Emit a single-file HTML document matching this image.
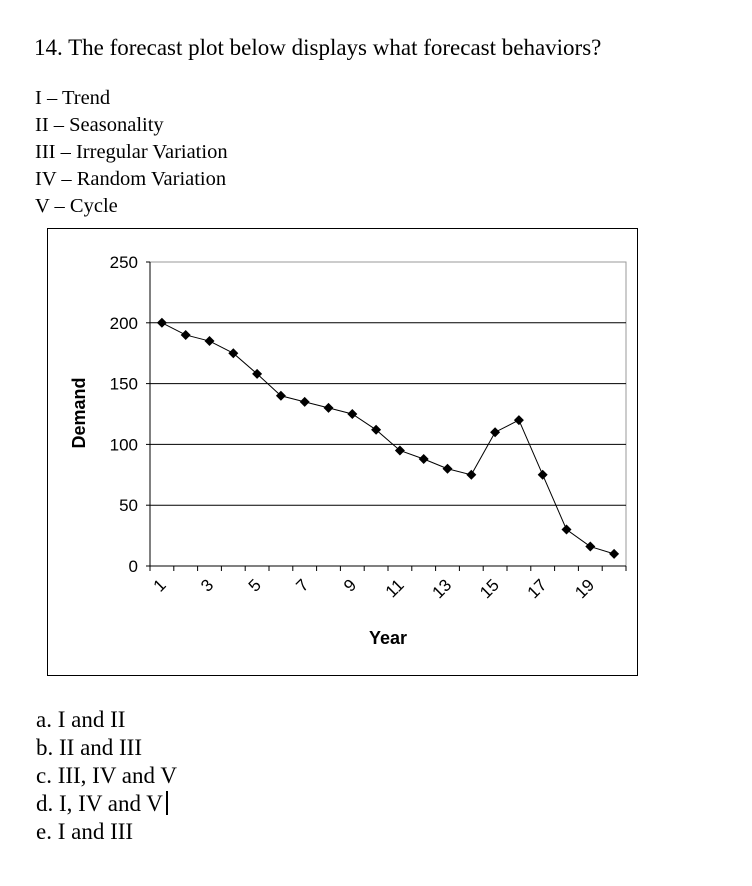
<!DOCTYPE html>
<html><head><meta charset="utf-8"><style>
body{margin:0;width:752px;height:886px;background:#fff;font-family:"Liberation Serif",serif;color:#000;position:relative;overflow:hidden}
.t{position:absolute;white-space:nowrap}
</style></head><body>
<div class="t" style="left:34px;top:35px;font-size:23px">14. The forecast plot below displays what forecast behaviors?</div>
<div class="t" style="left:35px;top:87px;font-size:20.5px">I – Trend</div>
<div class="t" style="left:35px;top:114px;font-size:20.5px">II – Seasonality</div>
<div class="t" style="left:35px;top:141px;font-size:20.5px">III – Irregular Variation</div>
<div class="t" style="left:35px;top:168px;font-size:20.5px">IV – Random Variation</div>
<div class="t" style="left:35px;top:195px;font-size:20.5px">V – Cycle</div>
<svg id="chart" style="position:absolute;left:0;top:0" width="752" height="886" font-family="Liberation Sans, sans-serif"></svg>
<div class="t" style="left:36px;top:707px;font-size:23px">a. I and II</div>
<div class="t" style="left:36px;top:735px;font-size:23px">b. II and III</div>
<div class="t" style="left:36px;top:763px;font-size:23px">c. III, IV and V</div>
<div class="t" style="left:36px;top:791px;font-size:23px">d. I, IV and V<span style="display:inline-block;width:2px;height:24px;background:#000;vertical-align:-4px;margin-left:3px"></span></div>
<div class="t" style="left:36px;top:819px;font-size:23px">e. I and III</div>
<script>
const years=[1,2,3,4,5,6,7,8,9,10,11,12,13,14,15,16,17,18,19,20];
const demand=[200,190,185,175,158,140,135,130,125,112,95,88,80,75,110,120,75,30,16,10];
const yTicks=[0,50,100,150,200,250];
const xLabels=[1,3,5,7,9,11,13,15,17,19];
const svg=document.getElementById('chart');
const NS='http://www.w3.org/2000/svg';
const L=150,R=626,T=262,B=566;
const xs=i=>L+(i-0.5)*(R-L)/years.length;
const ys=v=>B-v/250*(B-T);
function mk(tag,a){const e=document.createElementNS(NS,tag);for(const k in a)e.setAttribute(k,a[k]);svg.appendChild(e);return e;}
let e=mk('rect',{x:47.5,y:228.5,width:590,height:447,fill:'none',stroke:'#000','stroke-width':1});


e=mk('rect',{x:L,y:T,width:R-L,height:B-T,fill:'none',stroke:'#999','stroke-width':1});


yTicks.forEach(v=>{
 const y=ys(v);
 if(v>0&&v<250){e=mk('line',{x1:L,x2:R,y1:y,y2:y,stroke:'#000','stroke-width':1});
 
 }
 mk('line',{x1:L-4,x2:L,y1:y,y2:y,stroke:'#000'});
 e=mk('text',{x:L-12,y:y+6,'text-anchor':'end','font-size':17});e.textContent=v;
 
 
});
mk('line',{x1:L,x2:L,y1:T,y2:B+4,stroke:'#000'});
mk('line',{x1:L,x2:R,y1:B,y2:B,stroke:'#000'});
for(let i=0;i<=years.length;i++){const x=L+i*(R-L)/years.length;mk('line',{x1:x,x2:x,y1:B,y2:B+5,stroke:'#000'});}
xLabels.forEach(v=>{
 const x=xs(v);
 e=mk('text',{x:x+5,y:B+20,'text-anchor':'end','font-size':17,transform:`rotate(-45 ${x+5} ${B+20})`});e.textContent=v;
 
 
});
e=mk('text',{x:388,y:644,'text-anchor':'middle','font-size':18,'font-weight':'bold'});e.textContent='Year';


e=mk('text',{x:0,y:0,'text-anchor':'middle','font-size':18,'font-weight':'bold',transform:'translate(85 413) rotate(-90)'});e.textContent='Demand';


e=mk('polyline',{points:years.map((yr,i)=>xs(yr)+','+ys(demand[i])).join(' '),fill:'none',stroke:'#000','stroke-width':1});


years.forEach((yr,i)=>{
 const x=xs(yr),y=ys(demand[i]);
 e=mk('polygon',{points:`${x},${y-5} ${x+5},${y} ${x},${y+5} ${x-5},${y}`,fill:'#000'});
 
 
});
</script>
</body></html>
